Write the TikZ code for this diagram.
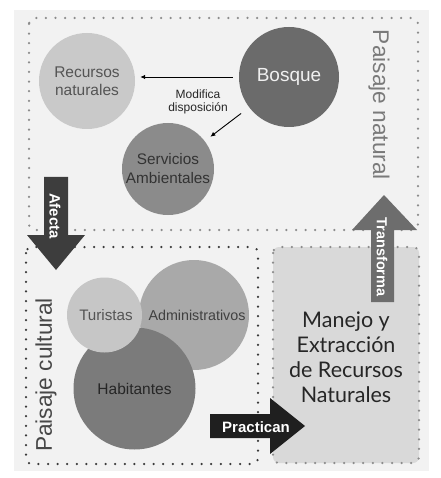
\documentclass[tikz,border=0pt]{standalone}
\usepackage{fontspec}
\setmainfont{Liberation Sans}
\newfontfamily\gill{Lato}
\usetikzlibrary{arrows.meta}
\definecolor{bgc}{HTML}{F2F2F2}
\definecolor{recc}{HTML}{C9C9C9}
\definecolor{bosc}{HTML}{6B6B6B}
\definecolor{serc}{HTML}{8B8B8B}
\definecolor{admc}{HTML}{A9A9A9}
\definecolor{turc}{HTML}{C6C6C6}
\definecolor{habc}{HTML}{7B7B7B}
\definecolor{boxc}{HTML}{D9D9D9}
\definecolor{afc}{HTML}{3D3D3D}
\definecolor{trc}{HTML}{6D6D6D}
\definecolor{prc}{HTML}{1F1F1F}
\definecolor{natdot}{HTML}{8C8C8C}
\definecolor{culdot}{HTML}{3A3A3A}
\begin{document}
\begin{tikzpicture}[x=1pt,y=-1pt,
  dotline/.style={line width=2.5pt, line cap=round, dash pattern=on 0pt off 9.6pt, rounded corners=6pt},
  circ/.style={circle, inner sep=0pt, align=center},
  conn/.style={line width=0.9pt, -{Latex[length=5pt,width=4.5pt]}},
  arrowtext/.style={text=white, font=\bfseries\fontsize{15}{16}\selectfont, inner sep=0pt},
  bigtext/.style={font=\fontsize{22.7}{24}\selectfont, inner sep=0pt}]
\useasboundingbox (0,0) rectangle (440,478);
\fill[bgc] (14,10) rectangle (429,471);
% boxes
\draw[dotline, natdot] (29,18) rectangle (418,230);
\draw[dotline, natdot, fill=boxc] (273,247) rectangle (419,463);
\draw[dotline, culdot] (26,247) rectangle (258,464);
% natural landscape
\node[circ, minimum size=96pt, fill=recc, text=black!67, font=\fontsize{15.5}{17.5}\selectfont] (rec) at (87,81) {Recursos\\naturales};
\node[circ, minimum size=100pt, fill=bosc, text=white!94!black, font=\fontsize{19}{21}\selectfont] (bos) at (289,77) {Bosque};
\node[circ, minimum size=92pt, fill=serc, text=black!80, font=\fontsize{15.3}{19}\selectfont] (ser) at (168,169) {Servicios\\Ambientales};
\draw[conn] ([xshift=-6pt]bos.west) -- ([xshift=5pt]bos.west -| rec.east);
\draw[conn, shorten <=10pt, shorten >=7pt] (bos) -- (ser);
\node[align=center, inner sep=0pt, font=\fontsize{12}{13.5}\selectfont, text=black!85] (mod) at (198,102) {Modifica\\disposición};
\node[bigtext, rotate=-90, text=black!52] (natlab) at (379,105) {Paisaje natural};
% cultural landscape
\node[circ, minimum size=110pt, fill=admc, text=black!75, font=\fontsize{14.3}{16}\selectfont] (adm) at (194,315) {\hspace*{6pt}Administrativos};
\node[circ, minimum size=122pt, fill=habc, text=black!85, font=\fontsize{15.5}{17}\selectfont] (hab) at (134.5,388.5) {Habitantes};
\node[circ, minimum size=75pt, fill=turc, text=black!67, font=\fontsize{15.2}{17}\selectfont] (tur) at (104.5,315) {\hspace*{3pt}Turistas};
\node[bigtext, rotate=90, text=black!72] (cullab) at (46,375) {Paisaje cultural};
% management box text
\node[align=center, inner sep=0pt, text=black!85, font=\gill\fontsize{21.5}{25}\selectfont] (man) at (346,357) {Manejo y\\Extracción\\de Recursos\\Naturales};
% block arrows
\fill[afc] (44,177) -- (68,177) -- (68,235) -- (85,235) -- (56,270) -- (27,235) -- (44,235) -- cycle;
\node[arrowtext, rotate=-90] (afecta) at (55,216) {Afecta};
\fill[trc] (371,302) -- (394,302) -- (394,230) -- (417,230) -- (384,195) -- (352,230) -- (371,230) -- cycle;
\node[arrowtext, rotate=-90, font=\bfseries\fontsize{14.5}{16}\selectfont] (transforma) at (382,257) {Transforma};
\fill[prc] (210,414) -- (270,414) -- (270,398) -- (305,426) -- (270,454) -- (270,438) -- (210,438) -- cycle;
\node[arrowtext] (practican) at (256,427) {Practican};
\end{tikzpicture}
\end{document}
